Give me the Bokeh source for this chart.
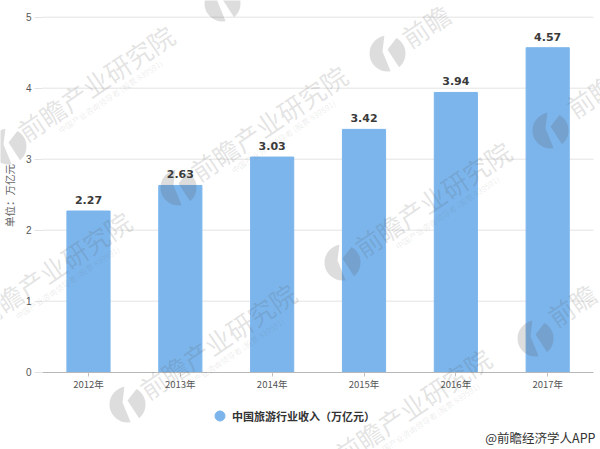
import math

from bokeh.plotting import figure
from bokeh.models import ColumnDataSource, Label, FixedTicker, PolyAnnotation, Legend, LegendItem
from bokeh.core.properties import value
from bokeh.embed import file_html
from bokeh.resources import INLINE

CJK = "Noto Sans CJK SC"
BAR = "#7cb5ec"
MARK = "#555555"
GRID = "#e3e3e3"

years = ["2012年", "2013年", "2014年", "2015年", "2016年", "2017年"]
income = [2.27, 2.63, 3.03, 3.42, 3.94, 4.57]
income_labels = ["2.27", "2.63", "3.03", "3.42", "3.94", "4.57"]
y_ticks = [0, 1, 2, 3, 4, 5]
x_pos = list(range(len(years)))

# watermark positions in picture pixels
mark_texts = [("前瞻产业研究院", 95, 82), ("前瞻产业研究院", 268, 122), ("前瞻产业研究院", 432, 198),
              ("前瞻产业研究院", 52, 268), ("前瞻产业研究院", 217, 340), ("前瞻产业研究院", 412, 405),
              ("前瞻", 425, 25), ("前瞻", 571, 304), ("前瞻", 590, 95)]
mark_logos = [(8, 146), (178, 187), (387, 53), (342, 262), (127, 404), (535, 338), (550, 130), (222, 3)]

source = ColumnDataSource(dict(x=x_pos, income=income, label=income_labels))

# the frame fills the whole page, labels are clipped to it, so the axes sit inside at fixed locations
p = figure(width=600, height=449, x_range=(-0.958, 5.575), y_range=(-1.089, 5.235),
           output_backend="svg", toolbar_location=None, tools="",
           min_border_left=0, min_border_right=0, min_border_top=0, min_border_bottom=0)
p.outline_line_color = None
p.background_fill_color = "white"
p.grid.grid_line_color = None

p.segment(x0=-0.5, x1=5.5, y0=y_ticks[1:], y1=y_ticks[1:], line_color=GRID, line_width=1)
p.vbar(x="x", top="income", width=0.47, source=source, color=BAR)
p.text(x="x", y="income", text="label", source=source, y_offset=-7,
       text_align="center", text_baseline="bottom", text_font=value("DejaVu Sans"),
       text_font_size="11px", text_font_style="bold", text_color="#3a3a3a")

p.yaxis.fixed_location = -0.5
p.yaxis.ticker = FixedTicker(ticks=y_ticks)
p.yaxis.axis_line_color = None
p.yaxis.major_tick_line_color = GRID
p.yaxis.major_tick_in = 0
p.yaxis.major_tick_out = 8
p.yaxis.minor_tick_line_color = None
p.yaxis.major_label_text_font = "Liberation Sans"
p.yaxis.major_label_text_font_size = "10px"
p.yaxis.major_label_text_color = "#555555"
p.yaxis.major_label_standoff = 3

p.xaxis.fixed_location = 0
p.xaxis.bounds = (-0.5, 5.5)
p.xaxis.ticker = FixedTicker(ticks=x_pos)
p.xaxis.major_label_overrides = dict(zip(x_pos, years))
p.xaxis.minor_tick_line_color = None
p.xaxis.axis_line_color = "#b8b8b8"
p.xaxis.major_tick_line_color = "#c0c0c0"
p.xaxis.major_tick_in = 0
p.xaxis.major_tick_out = 4
p.xaxis.major_label_text_font = CJK
p.xaxis.major_label_text_font_size = "9.5px"
p.xaxis.major_label_text_color = "#555555"
p.xaxis.major_label_standoff = 1

# legend needs a renderer with a point, this one lies outside the ranges
dot = p.scatter(x=[-9], y=[-9], marker="circle", size=10, color=BAR)
legend = Legend(items=[LegendItem(label="中国旅游行业收入（万亿元）", renderers=[dot])],
                location=(207, 21), margin=0, padding=0,
                glyph_width=25, glyph_height=25, label_standoff=0,
                label_text_font=CJK, label_text_font_size="11px", label_text_font_style="bold",
                label_text_color="#333333", background_fill_alpha=0, border_line_color=None)
p.add_layout(legend, "center")


def note(x, y, text, size, color, angle=0.0, align="center", alpha=1.0):
    # x, y are picture pixels, screen units count from the lower left
    p.add_layout(Label(x=x, y=449 - y, x_units="screen", y_units="screen", text=text,
                       text_font=CJK, text_font_size=size, text_color=color, angle=angle,
                       text_align=align, text_baseline="middle", text_alpha=alpha))


def logo_piece(cx, cy, start, end, inner):
    # an arc of the logo's ring closed through one point near its middle
    r = 18
    xs = [cx + r * math.cos(math.radians(a)) for a in range(start, end, 10)]
    ys = [449 - cy + r * math.sin(math.radians(a)) for a in range(start, end, 10)]
    xs.append(cx + inner[0])
    ys.append(449 - cy + inner[1])
    p.add_layout(PolyAnnotation(xs=xs, ys=ys, xs_units="screen", ys_units="screen",
                                fill_color=MARK, fill_alpha=0.2, line_color=None, level="overlay"))


angle = math.radians(34)
for text, x, y in mark_texts:
    note(x, y, text, "26px", MARK, angle=angle, alpha=0.17)
    if len(text) > 2:
        note(x + 15, y + 14, "中国产业咨询领导者 (股票 839591)", "8px", MARK, angle=angle, alpha=0.12)
for x, y in mark_logos:
    logo_piece(x, y, 100, 290, (-5, 2))
    logo_piece(x, y, -50, 70, (0, 4))

note(9, 195, "单位：万亿元", "10.5px", "#666666", angle=math.pi / 2)
note(595, 437, "@前瞻经济学人APP", "12.5px", "#333333", align="right")

out = open("out.html", "w")
out.write(file_html(p, INLINE))
out.close()
